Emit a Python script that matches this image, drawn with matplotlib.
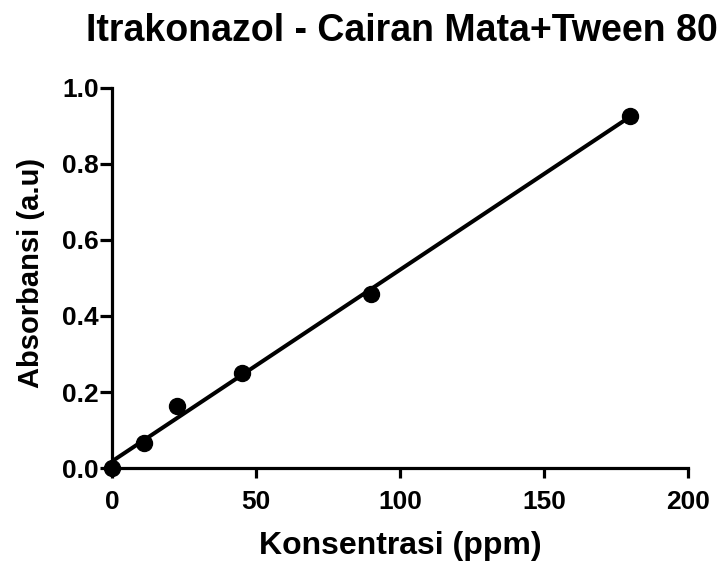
import numpy as np
import matplotlib
matplotlib.use("Agg")
import matplotlib.pyplot as plt
from matplotlib import font_manager

conc = [0, 11.25, 22.5, 45, 90, 180]
absorb = [0.0, 0.066, 0.162, 0.251, 0.457, 0.927]
xticks = [0, 50, 100, 150, 200]
yticks = [0.0, 0.2, 0.4, 0.6, 0.8, 1.0]

names = {f.name for f in font_manager.fontManager.ttflist}
narrow = "Liberation Sans Narrow" in names
title_family = "Liberation Sans Narrow" if narrow else "Liberation Sans"
plt.rcParams['font.family'] = ['Liberation Sans', 'DejaVu Sans']

fig = plt.figure(figsize=(7.21, 5.64), dpi=100)
ax = fig.add_axes([0.1553, 0.1702, 0.7989, 0.6738])

slope, intercept = np.polyfit(conc, absorb, 1)
xl = np.array([min(conc), max(conc)])
ax.plot(xl, slope * xl + intercept, color='black', lw=2.9, solid_capstyle='butt', zorder=2)
ax.plot(conc, absorb, 'o', color='black', markersize=11.5, zorder=3, clip_on=False)

ax.set_xlim(0, 200)
ax.set_ylim(0, 1.0)
ax.set_xticks(xticks)
ax.set_yticks(yticks)
ax.set_xticklabels([str(t) for t in xticks], fontsize=19, fontweight='bold')
ax.set_yticklabels([f"{t:.1f}" for t in yticks], fontsize=19, fontweight='bold')
for s in ['top', 'right']:
    ax.spines[s].set_visible(False)
for s in ['left', 'bottom']:
    ax.spines[s].set_linewidth(2.3)
ax.tick_params(axis='x', direction='out', length=7.5, width=2.3, pad=8)
ax.tick_params(axis='y', direction='out', length=8.5, width=2.3, pad=1)
ax.set_xlabel('Konsentrasi (ppm)', fontsize=23, fontweight='bold', va='baseline')
ax.xaxis.set_label_coords(0.5, -0.2263)
ax.set_ylabel('Absorbansi (a.u)', fontsize=21, fontweight='bold')
ax.yaxis.set_label_coords(-0.116, 0.513)
fig.text(0.557, 0.9273, 'Itrakonazol - Cairan Mata+Tween 80', ha='center', va='baseline',
         fontsize=(34 if narrow else 27), fontweight='bold', family=[title_family, 'DejaVu Sans'])

fig.savefig('out.png', dpi=100)
